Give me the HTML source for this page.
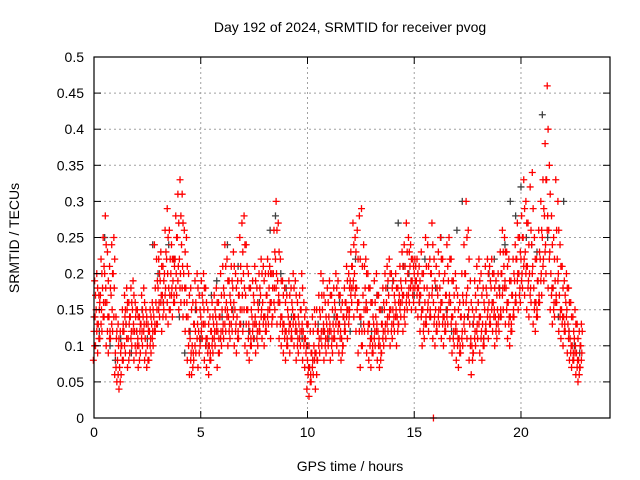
<!DOCTYPE html>
<html><head><meta charset="utf-8"><style>
body{margin:0;background:#fff;}
svg{display:block;font-family:"Liberation Sans",sans-serif;}
</style></head><body>
<svg id="chart" width="640" height="480" viewBox="0 0 640 480">
<rect width="640" height="480" fill="#fff"/>
<g id="grid"></g>
<g id="black"></g>
<g id="red"></g>
<g id="axes"></g>
<text x="350" y="32" font-size="14" text-anchor="middle">Day 192 of 2024, SRMTID for receiver pvog</text>
<text transform="translate(19,238) rotate(-90)" font-size="14" text-anchor="middle">SRMTID / TECUs</text>
<text x="350" y="471" font-size="14" text-anchor="middle">GPS time / hours</text>
</svg>
<script>
const xTicks=[0,5,10,15,20];
const yTicks=[0,0.05,0.1,0.15,0.2,0.25,0.3,0.35,0.4,0.45,0.5];
const yTickLabels=["0","0.05","0.1","0.15","0.2","0.25","0.3","0.35","0.4","0.45","0.5"];
const redStep=0.1;
const redValues=[
[8,12,19],[10,15,20],[9,13,17],[11,17,22],[12,18,25],[14,20,28],[10,16,23],[9,14,21],[11,17,24],[12,20,25],
[6,9,14],[5,8,13],[4,7,12],[6,10,15],[8,12,17],[9,13,18],[7,11,16],[9,14,18],[10,15,19],[8,12,16],
[9,12,15],[7,10,14],[9,13,17],[10,14,18],[8,11,15],[7,10,13],[8,12,15],[9,13,16],[10,14,24],[12,16,22],
[13,18,22],[14,19,23],[12,17,21],[15,20,26],[14,22,29],[13,18,26],[15,20,24],[14,19,22],[16,22,28],[17,25,31],
[15,22,33],[16,24,31],[14,20,26],[12,18,25],[8,14,20],[6,11,18],[6,10,16],[8,13,19],[9,15,20],[7,12,17],
[10,14,19],[11,16,20],[8,13,18],[7,11,15],[6,10,14],[8,12,16],[9,13,17],[10,14,18],[7,12,16],[9,14,20],
[10,15,21],[11,17,24],[12,16,22],[10,14,19],[11,16,21],[12,18,23],[10,15,20],[9,14,19],[11,17,25],[13,19,27],
[12,20,28],[10,17,24],[9,15,20],[8,12,18],[10,14,19],[11,16,21],[9,13,18],[10,15,20],[12,17,22],[11,16,21],
[10,14,20],[12,17,22],[13,18,21],[11,16,20],[14,20,26],[15,22,30],[13,19,27],[11,16,22],[10,14,19],[9,13,18],
[8,12,17],[10,14,19],[9,13,18],[11,15,20],[10,14,19],[8,12,16],[9,13,17],[10,15,20],[8,12,16],[7,11,15],
[4,8,13],[3,7,12],[5,9,14],[6,10,15],[4,9,15],[8,12,17],[9,14,20],[10,15,19],[8,12,16],[9,13,18],
[10,14,19],[8,12,17],[9,13,18],[11,15,20],[10,14,19],[9,13,17],[8,11,16],[10,14,18],[12,16,21],[11,15,20],
[15,19,23],[16,21,27],[14,20,25],[12,18,26],[9,16,28],[7,14,29],[10,17,24],[12,18,22],[9,15,20],[8,13,18],
[7,11,16],[9,13,19],[10,14,20],[8,12,17],[7,10,15],[9,13,18],[10,15,20],[11,16,21],[12,17,22],[10,15,20],
[11,15,19],[12,16,20],[10,14,18],[13,17,21],[14,18,23],[12,17,24],[13,19,27],[15,20,25],[16,21,24],[15,19,22],
[16,20,22],[15,19,22],[14,18,21],[12,17,23],[10,15,20],[11,16,25],[13,18,24],[12,17,22],[14,20,27],[11,16,22],
[10,15,21],[12,17,23],[13,18,25],[11,16,22],[10,14,20],[12,17,24],[13,19,25],[11,16,22],[9,14,19],[10,15,20],
[8,12,17],[7,11,16],[9,14,20],[10,16,24],[12,20,30],[11,18,26],[8,13,19],[6,10,15],[9,14,19],[10,15,21],
[11,16,22],[9,14,20],[8,13,18],[10,15,21],[12,17,22],[11,16,21],[13,18,22],[12,16,20],[10,14,19],[11,15,20],
[12,17,23],[14,20,26],[15,21,25],[13,18,23],[11,16,22],[10,14,19],[12,17,22],[14,19,24],[16,22,27],[15,20,25],
[16,22,28],[18,25,33],[17,23,30],[15,21,27],[14,20,32],[16,24,34],[13,18,25],[12,16,22],[14,19,26],[16,22,30],
[17,25,33],[19,28,38],[20,33,46],[18,26,35],[15,20,28],[13,18,25],[14,19,33],[16,22,30],[12,17,24],[11,15,21],
[10,14,19],[12,16,20],[9,13,18],[8,11,16],[7,10,14],[8,11,15],[6,9,13],[5,8,12],[7,10,13]
];
const redValues2=[
[10,14,17],[12,13,18],[11,15,16],[13,15,20],[14,16,21],[16,18,24],[12,14,19],[11,12,18],[13,15,20],[14,18,22],
[7,11,12],[6,10,11],[5,9,10],[8,12,13],[10,14,15],[11,15,16],[8,13,14],[11,12,16],[12,13,17],[10,14,15],
[10,11,14],[8,12,13],[11,12,15],[12,13,16],[9,13,14],[8,12,12],[10,11,14],[11,12,15],[12,13,18],[13,15,19],
[15,16,20],[16,17,21],[14,16,19],[17,18,23],[16,20,25],[15,17,22],[17,18,22],[16,17,21],[18,20,25],[19,21,27],
[18,20,28],[18,21,27],[16,18,23],[14,16,21],[10,12,17],[8,9,15],[7,9,13],[10,12,16],[11,13,18],[9,11,15],
[12,13,17],[13,15,18],[10,11,16],[9,10,13],[8,9,12],[10,11,14],[11,12,15],[12,13,16],[9,11,14],[11,12,17],
[12,13,18],[13,15,21],[14,15,19],[12,13,17],[13,15,19],[14,16,21],[12,13,18],[11,12,17],[13,15,21],[15,17,23],
[15,18,24],[13,15,21],[11,13,18],[10,11,15],[12,13,17],[13,14,19],[11,12,16],[12,13,18],[14,15,20],[13,14,19],
[12,13,17],[14,15,20],[15,16,20],[13,14,18],[16,18,23],[18,20,26],[16,17,23],[13,14,19],[12,13,17],[11,12,16],
[10,11,15],[12,13,17],[11,12,16],[13,14,18],[12,13,17],[10,11,14],[11,12,15],[12,13,18],[10,11,14],[9,10,13],
[6,7,10],[5,6,9],[7,8,12],[8,9,13],[6,8,12],[10,11,15],[11,12,17],[12,13,17],[10,11,14],[11,12,16],
[12,13,17],[10,11,15],[11,12,16],[13,14,18],[12,13,17],[11,12,15],[9,10,14],[12,13,16],[14,15,19],[13,14,18],
[17,18,21],[18,19,24],[17,18,23],[15,16,22],[12,14,22],[10,12,21],[13,15,21],[15,16,20],[12,13,18],[10,11,16],
[9,10,14],[11,12,16],[12,13,17],[10,11,15],[8,9,13],[11,12,16],[12,13,18],[13,14,19],[14,15,20],[12,13,18],
[13,14,17],[14,15,18],[12,13,16],[15,16,19],[16,17,21],[14,15,21],[16,17,23],[17,18,23],[18,19,22],[17,18,21],
[18,19,21],[17,18,20],[16,17,19],[14,15,20],[12,13,18],[13,14,21],[15,16,21],[14,15,20],[17,18,24],[13,14,19],
[12,13,18],[14,15,20],[15,16,22],[13,14,19],[12,13,17],[14,15,21],[16,17,22],[13,14,19],[11,12,17],[12,13,18],
[10,11,15],[9,10,14],[11,12,17],[13,14,20],[16,17,25],[14,15,22],[10,11,16],[8,9,13],[11,12,17],[12,13,18],
[13,14,19],[11,12,17],[10,11,16],[12,13,18],[14,15,20],[13,14,19],[15,16,20],[14,15,18],[12,13,17],[13,14,18],
[14,15,20],[17,18,23],[18,19,23],[15,16,21],[13,14,19],[12,13,17],[14,15,20],[16,17,22],[19,20,25],[17,18,23],
[19,20,25],[21,22,29],[20,21,27],[18,19,24],[17,18,26],[20,21,29],[15,16,22],[14,15,19],[16,17,23],[19,20,26],
[21,22,29],[23,24,33],[26,28,40],[22,23,31],[17,18,24],[15,16,22],[16,17,26],[19,20,26],[14,15,21],[13,14,18],
[12,13,17],[14,15,18],[11,12,16],[9,10,14],[8,9,12],[9,10,13],[7,8,11],[6,7,10],[8,9,12]
];
const redExtraTimes=[15.9];
const redExtraValues=[0];
const blackStep=0.25;
const blackValues=[14,12,25,10,8,11,13,9,12,15,11,24,20,16,24,22,14,9,12,15,11,10,17,19,14,24,15,21,13,12,11,16,14,26,28,20,18,14,12,11,10,8,13,12,11,14,16,13,12,22,13,16,12,17,15,18,19,27,21,20,17,16,22,14,18,25,15,12,26,30,14,13,16,11,20,22,18,24,30,28,32,25,24,23,42,25,18,14,30,12,10,9];

const L=94,R=610,T=57,B=418,XMAX=24.17,YMAX=0.5;
const xs=v=>L+v/XMAX*(R-L);
const ys=v=>B-v/YMAX*(B-T);
const NS="http://www.w3.org/2000/svg";
function mk(tag,attrs,parent){const e=document.createElementNS(NS,tag);for(const k in attrs)e.setAttribute(k,attrs[k]);parent.appendChild(e);return e;}
const grid=document.getElementById('grid'),axes=document.getElementById('axes');
yTicks.forEach((v,i)=>{
  const y=ys(v);
  if(i>0&&i<yTicks.length-1){const g=mk('line',{x1:L,x2:R,y1:y,y2:y,stroke:'#a0a0a0','stroke-dasharray':'2,3','stroke-width':1},grid);
  
  }
  mk('line',{x1:L,x2:L+7,y1:y,y2:y,stroke:'#000'},axes);
  mk('line',{x1:R,x2:R-7,y1:y,y2:y,stroke:'#000'},axes);
  const t=mk('text',{x:L-10,y:y+5,'font-size':14,'text-anchor':'end'},axes);
  t.textContent=yTickLabels[i];
  
  
});
xTicks.forEach(v=>{
  const x=xs(v);
  if(v>0){const g=mk('line',{x1:x,x2:x,y1:T,y2:B,stroke:'#a0a0a0','stroke-dasharray':'2,3','stroke-width':1},grid);
  
  }
  mk('line',{x1:x,x2:x,y1:B,y2:B-7,stroke:'#000'},axes);
  mk('line',{x1:x,x2:x,y1:T,y2:T+7,stroke:'#000'},axes);
  const t=mk('text',{x:x,y:B+19,'font-size':14,'text-anchor':'middle'},axes);
  t.textContent=String(v);
  
  
});
const frame=mk('rect',{x:L,y:T,width:R-L,height:B-T,fill:'none',stroke:'#000','stroke-width':1.2},axes);


function plus(g,t,v,c){const x=xs(t),y=ys(v);
  const p=mk('path',{d:`M${x-3.5},${y}h7M${x},${y-3.5}v7`,stroke:c,'stroke-width':1.3},g);
  
  }
const red=document.getElementById('red'),black=document.getElementById('black');
blackValues.forEach((v,i)=>plus(black,i*blackStep,v/100,'#404040'));
redValues.forEach((row,i)=>{const t=i*redStep;row.forEach((v,j)=>{plus(red,t+(j-1)*0.03,v/100,'#ff0000');});});
redValues2.forEach((row,i)=>{const t=i*redStep+0.05;row.forEach((v,j)=>{plus(red,t+(j-1)*0.02,v/100,'#ff0000');});});
redExtraTimes.forEach((t,i)=>plus(red,t,redExtraValues[i],'#ff0000'));
</script>
</body></html>
